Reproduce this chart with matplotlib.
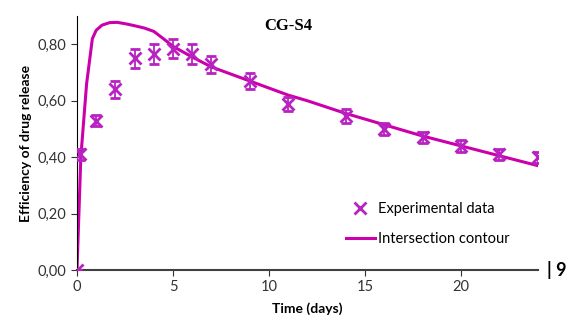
import numpy as np
import matplotlib.pyplot as plt
from matplotlib.ticker import FuncFormatter
from matplotlib.lines import Line2D

# experimental points (time in days, efficiency, error)
t_exp = [0, 0.17, 1, 2, 3, 4, 5, 6, 7, 9, 11, 14, 16, 18, 20, 22, 24]
eff_exp = [0.0, 0.41, 0.53, 0.64, 0.75, 0.765, 0.785, 0.765, 0.73, 0.67, 0.59, 0.545, 0.50, 0.47, 0.44, 0.41, 0.40]
err_exp = [0.0, 0.02, 0.02, 0.03, 0.035, 0.035, 0.035, 0.035, 0.03, 0.03, 0.025, 0.025, 0.02, 0.02, 0.02, 0.02, 0.02]

# model curve
t_fit = [0, 0.2, 0.5, 0.8, 1.0, 1.3, 1.7, 2.1, 2.6, 3.0, 3.5, 4.0, 4.5, 5, 6, 7, 8, 9, 10, 11, 12, 14, 16, 18, 20, 22, 24]
eff_fit = [0.0, 0.40, 0.66, 0.82, 0.85, 0.868, 0.877, 0.878, 0.872, 0.866, 0.858, 0.846, 0.82, 0.793, 0.755, 0.72, 0.695, 0.67, 0.645, 0.62, 0.60, 0.555, 0.515, 0.475, 0.44, 0.405, 0.37]

col_line = '#CC00AA'
col_pts = '#B822C0'

plt.rcParams['font.family'] = ['Lato', 'DejaVu Sans']

fig = plt.figure(figsize=(5.69, 3.23), dpi=100)
ax = fig.add_axes([0.1353, 0.164, 0.81, 0.786])

ax.plot(t_fit, eff_fit, color=col_line, linewidth=2.2, zorder=2)
ax.errorbar(t_exp, eff_exp, yerr=err_exp, fmt='x', color=col_pts, markersize=8,
            markeredgewidth=2, elinewidth=1.3, capsize=3.5, capthick=1.3, zorder=3)

ax.set_xlim(0, 24)
ax.set_ylim(0, 0.9)
ax.set_xticks([0, 5, 10, 15, 20])
ax.set_yticks([0, 0.2, 0.4, 0.6, 0.8])
ax.yaxis.set_major_formatter(FuncFormatter(lambda v, p: f'{v:.2f}'.replace('.', ',')))
ax.tick_params(axis='both', labelsize=10.5, length=4, direction='out', colors='#333333')

ax.spines['top'].set_visible(False)
ax.spines['right'].set_visible(False)
ax.spines['left'].set_color('black')
ax.spines['bottom'].set_color('#404040')
ax.spines['bottom'].set_linewidth(1.5)

ax.set_xlabel('Time (days)', fontsize=10, fontweight='bold', labelpad=6)
ax.set_ylabel('Efficiency of drug release', fontsize=10, fontweight='bold')

ax.text(11.0, 0.865, 'CG-S4', fontsize=12, fontweight='bold', family='Liberation Serif',
        ha='center', va='center')

# legend handles without the error bars
h_exp = Line2D([], [], linestyle='none', marker='x', color=col_pts, markersize=8, markeredgewidth=2)
h_fit = Line2D([], [], color=col_line, linewidth=2.2)
ax.legend([h_exp, h_fit], ['Experimental data', 'Intersection contour'],
          loc='upper left', bbox_to_anchor=(0.555, 0.32), frameon=False,
          fontsize=10.5, handlelength=2.0, handletextpad=0.2, labelspacing=1.1)

fig.text(0.962, 0.164, '| 9', fontsize=13, fontweight='bold', va='center', ha='left')

fig.savefig('out.png', dpi=100)
